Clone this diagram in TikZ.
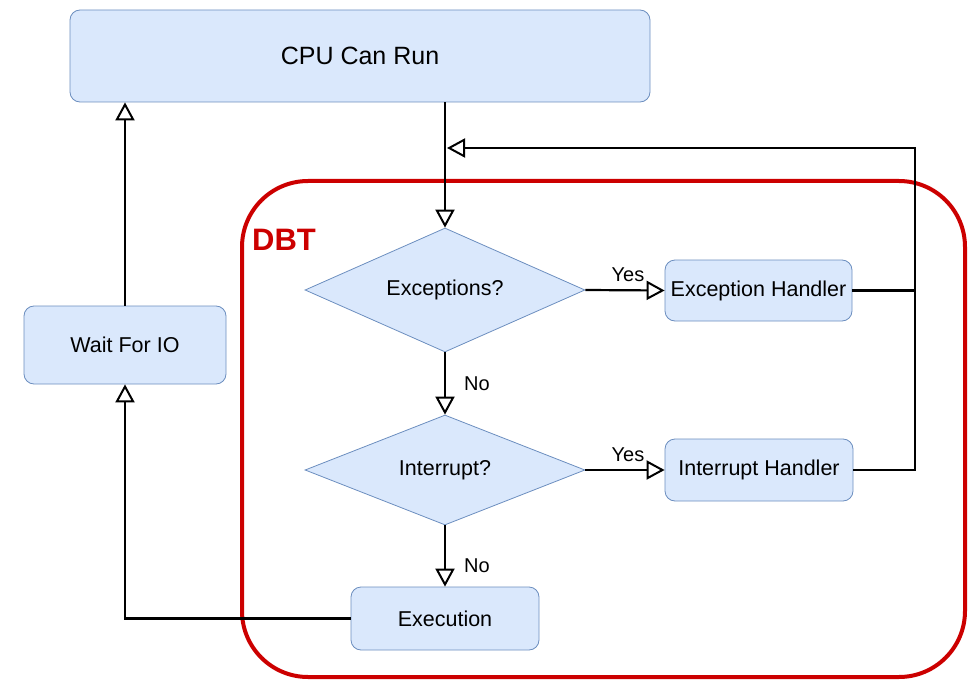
\documentclass[tikz,border=0pt]{standalone}
\usepackage{fontspec}
\setmainfont{Liberation Sans}
\usetikzlibrary{shapes.geometric,arrows.meta}
\definecolor{boxfill}{HTML}{DAE8FC}
\definecolor{boxline}{HTML}{6C8EBF}
\definecolor{dbtred}{HTML}{CC0000}
\tikzset{
    box/.style={draw=boxline,fill=boxfill,rounded corners=10pt,line width=0.8pt,font=\fontsize{21.5}{24}\selectfont},
    decision/.style={draw=boxline,fill=boxfill,diamond,aspect=2.25,inner sep=0pt,line width=0.8pt,font=\fontsize{21.5}{24}\selectfont},
    conn/.style={line width=2.2pt},
    arr/.style={conn,-{Triangle[open,length=18pt,width=19pt,line width=2pt]}},
    lbl/.style={font=\fontsize{20}{22}\selectfont,inner sep=1pt}
}
\begin{document}
\begin{tikzpicture}[x=1pt,y=-1pt]
        \useasboundingbox (0,0) rectangle (975,682);
        \draw[dbtred,line width=4pt,rounded corners=66pt] (242,181) rectangle (965,677);
        \node[text=dbtred,font=\fontsize{31}{34}\selectfont\bfseries] (dbt) at (284,240) {DBT};
        \node[box,minimum width=580pt,minimum height=92pt,font=\fontsize{25}{28}\selectfont] (cpu) at (360,56) {CPU Can Run};
        \node[box,minimum width=202pt,minimum height=78pt] (wait) at (125,345) {Wait For IO};
        \node[decision,minimum width=280pt,minimum height=124pt] (exc) at (445,290) {Exceptions?};
        \node[decision,minimum width=280pt,minimum height=110pt] (intr) at (445,470) {Interrupt?};
        \node[box,minimum width=187pt,minimum height=61pt] (exh) at (758.5,290.5) {Exception Handler};
        \node[box,minimum width=188pt,minimum height=62pt] (inh) at (759,470) {Interrupt Handler};
        \node[box,minimum width=188pt,minimum height=63pt] (exe) at (445,618.5) {Execution};
        \coordinate (loop) at (915,148);
        \draw[arr] (exc.north |- cpu.south) -- (exc.north);
        \draw[arr] (exc.east) -- node[lbl,above,xshift=3pt,yshift=6pt] (yes1) {Yes} (exh.west);
        \draw[arr] (exc.south) -- node[lbl,right,xshift=17pt] (no1) {No} (intr.north);
        \draw[arr] (intr.east) -- node[lbl,above,xshift=3pt,yshift=6pt] (yes2) {Yes} (inh.west);
        \draw[arr] (intr.south) -- node[lbl,right,xshift=17pt,yshift=-10pt] (no2) {No} (exe.north);
        \draw[conn] (exh.east) -- (exh.east -| loop);
        \draw[arr] (inh.east) -| (loop) -- ([xshift=2pt]exc.north |- loop);
        \draw[arr] (exe.west) -| (wait.south);
        \draw[arr] (wait.north) -- (wait.north |- cpu.south);
\end{tikzpicture}
\end{document}
